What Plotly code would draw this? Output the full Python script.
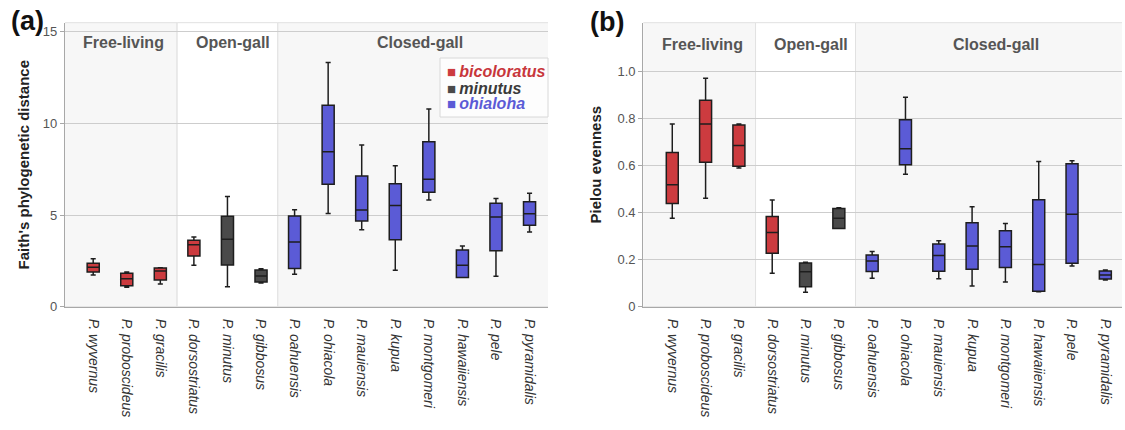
import plotly.graph_objects as go

# ---------------- data ----------------
species = ["P. wyvernus", "P. proboscideus", "P. gracilis", "P. dorsostriatus",
           "P. minutus", "P. gibbosus", "P. oahuensis", "P. ohiacola",
           "P. mauiensis", "P. kupua", "P. montgomeri", "P. hawaiiensis",
           "P. pele", "P. pyramidalis"]
lineage = ["bicoloratus", "bicoloratus", "bicoloratus", "bicoloratus",
           "minutus", "minutus", "ohialoha", "ohialoha", "ohialoha", "ohialoha",
           "ohialoha", "ohialoha", "ohialoha", "ohialoha"]
lineages = ["bicoloratus", "minutus", "ohialoha"]
groups = ["Free-living", "Open-gall", "Closed-gall"]
group_spans = [(-0.9, 2.5), (2.5, 5.5), (5.5, 13.6)]
group_label_pos = [0.9, 4.17, 9.73]

# (a) Faith's phylogenetic distance
faith_low = [1.73, 1.06, 1.24, 2.26, 1.09, 1.30, 1.77, 5.09, 4.20, 1.99, 5.82, 1.60, 1.66, 4.08]
faith_q1 = [1.89, 1.15, 1.46, 2.77, 2.27, 1.35, 2.09, 6.68, 4.68, 3.66, 6.24, 1.60, 3.06, 4.44]
faith_med = [2.15, 1.53, 1.95, 3.38, 3.68, 1.67, 3.53, 8.46, 5.28, 5.53, 6.95, 2.26, 4.89, 5.07]
faith_q3 = [2.37, 1.82, 2.11, 3.62, 4.93, 2.00, 4.95, 11.00, 7.13, 6.71, 9.00, 3.09, 5.64, 5.73]
faith_high = [2.62, 1.89, 2.13, 3.80, 6.02, 2.07, 5.29, 13.33, 8.82, 7.69, 10.79, 3.31, 5.91, 6.19]

# (b) Pielou evenness
piel_low = [0.376, 0.461, 0.589, 0.142, 0.061, 0.332, 0.121, 0.562, 0.119, 0.088, 0.105, 0.064, 0.173, 0.113]
piel_q1 = [0.438, 0.613, 0.596, 0.227, 0.085, 0.332, 0.150, 0.603, 0.151, 0.159, 0.166, 0.066, 0.185, 0.118]
piel_med = [0.518, 0.776, 0.685, 0.315, 0.148, 0.376, 0.194, 0.671, 0.217, 0.258, 0.255, 0.179, 0.393, 0.135]
piel_q3 = [0.655, 0.877, 0.772, 0.383, 0.186, 0.417, 0.220, 0.794, 0.266, 0.356, 0.322, 0.454, 0.607, 0.152]
piel_high = [0.776, 0.970, 0.776, 0.453, 0.189, 0.420, 0.234, 0.889, 0.280, 0.424, 0.353, 0.617, 0.620, 0.156]

faith_ticks = [0, 5, 10, 15]
faith_ticktext = ["0", "5", "10", "15"]
piel_ticks = [0, 0.2, 0.4, 0.6, 0.8, 1.0]
piel_ticktext = ["0", "0.2", "0.4", "0.6", "0.8", "1.0"]

# ---------------- styles ----------------
FONT = "Liberation Sans, Arial, sans-serif"
fill_colors = {"bicoloratus": "#cc3b3f", "minutus": "#4a4a4a", "ohialoha": "#5b5bd6"}
text_colors = {"bicoloratus": "#c8363b", "minutus": "#3a3a3a", "ohialoha": "#5b5bd6"}

fig = go.Figure()

panels = [
    ("x", "y", faith_low, faith_q1, faith_med, faith_q3, faith_high),
    ("x2", "y2", piel_low, piel_q1, piel_med, piel_q3, piel_high),
]
for xa, ya, lo, q1, med, q3, hi in panels:
    for i, sp in enumerate(species):
        fig.add_trace(go.Box(
            x=[sp], q1=[q1[i]], median=[med[i]], q3=[q3[i]],
            lowerfence=[lo[i]], upperfence=[hi[i]],
            orientation="v", xaxis=xa, yaxis=ya,
            fillcolor=fill_colors[lineage[i]],
            line=dict(color="#1e1e1e", width=1.5),
            width=0.36, whiskerwidth=0.42,
            boxpoints=False, showlegend=False, hoverinfo="skip",
        ))

W, H = 1125, 430

# background group bands and labels
shapes = []
annotations = []
for xa, ya, ypx in [("x", "y", 43), ("x2", "y2", 45)]:
    for gi, (g, (x0, x1)) in enumerate(zip(groups, group_spans)):
        shapes.append(dict(
            type="rect", xref=xa, yref=f"{ya} domain", x0=x0, x1=x1, y0=0, y1=1,
            fillcolor="#f7f7f7" if gi != 1 else "#ffffff",
            line=dict(color="#e1e1e1", width=1), layer="below",
        ))
        annotations.append(dict(
            x=group_label_pos[gi], y=1 - ypx / H, xref=xa, yref="paper",
            xanchor="center", yanchor="middle",
            text=f"<b>{g}</b>", showarrow=False,
            font=dict(family=FONT, size=16, color="#555555"),
        ))

# legend box (panel a)
shapes.append(dict(type="rect", xref="paper", yref="paper",
                   x0=440 / W, x1=548 / W, y0=1 - 117 / H, y1=1 - 58 / H,
                   fillcolor="#fdfdfd", line=dict(color="#d8d8d8", width=1), layer="above"))
legend_y = [72, 88, 104]
for lin, ypx in zip(lineages, legend_y):
    annotations.append(dict(
        x=446 / W, y=1 - ypx / H, xref="paper", yref="paper", xanchor="left", yanchor="middle",
        text=(f'<span style="color:{fill_colors[lin]};font-size:15px">■</span>'
              f'<span style="color:{text_colors[lin]}"><b><i>\u2009{lin}</i></b></span>'),
        showarrow=False, borderpad=0,
        font=dict(family=FONT, size=16),
    ))

annotations.append(dict(x=27 / W, y=1 - 21 / H, xref="paper", yref="paper", text="<b>(a)</b>",
                        xanchor="center", yanchor="middle",
                        showarrow=False, font=dict(family=FONT, size=27, color="#111111")))
annotations.append(dict(x=607 / W, y=1 - 22 / H, xref="paper", yref="paper", text="<b>(b)</b>",
                        xanchor="center", yanchor="middle",
                        showarrow=False, font=dict(family=FONT, size=27, color="#111111")))

xcommon = dict(type="category", categoryorder="array", categoryarray=species,
               tickangle=90, showgrid=False, showline=True, linecolor="#a8a8a8",
               linewidth=1.3, ticks="", ticklabelstandoff=8, zeroline=False,
               automargin=False,
               tickfont=dict(family=FONT, size=14, color="#333333", style="italic"))
ycommon = dict(showgrid=True, gridcolor="#cdcdcd", gridwidth=1, showline=True,
               linecolor="#a8a8a8", linewidth=1.3, ticks="outside", ticklen=4,
               tickcolor="#a8a8a8", zeroline=False, automargin=False,
               tickfont=dict(family=FONT, size=13, color="#555555"))

ydom = [1 - 306.7 / H, 1 - 22.7 / H]

fig.update_layout(
    width=W, height=H, autosize=False,
    margin=dict(l=0, r=0, t=0, b=0),
    paper_bgcolor="white", plot_bgcolor="white",
    boxmode="overlay", showlegend=False,
    font=dict(family=FONT),
    shapes=shapes, annotations=annotations,
    xaxis=dict(**xcommon, domain=[65 / W, 548 / W], range=[-0.84, 13.55], anchor="y"),
    yaxis=dict(**ycommon, domain=ydom, range=[0, 15.5], anchor="x",
               tickvals=faith_ticks, ticktext=faith_ticktext,
               title=dict(text="<b>Faith's phylogenetic distance</b>", standoff=9,
                          font=dict(family=FONT, size=15, color="#222222"))),
    xaxis2=dict(**xcommon, domain=[643.3 / W, 1122 / W], range=[-0.87, 13.5], anchor="y2"),
    yaxis2=dict(**ycommon, domain=ydom, range=[0, 1.206], anchor="x2",
                tickvals=piel_ticks, ticktext=piel_ticktext,
                title=dict(text="<b>Pielou evenness</b>", standoff=12,
                           font=dict(family=FONT, size=15, color="#222222"))),
)

fig.write_html("out.html", config={"displayModeBar": False},
               post_script="document.body.style.margin='0';document.body.style.padding='0';")
